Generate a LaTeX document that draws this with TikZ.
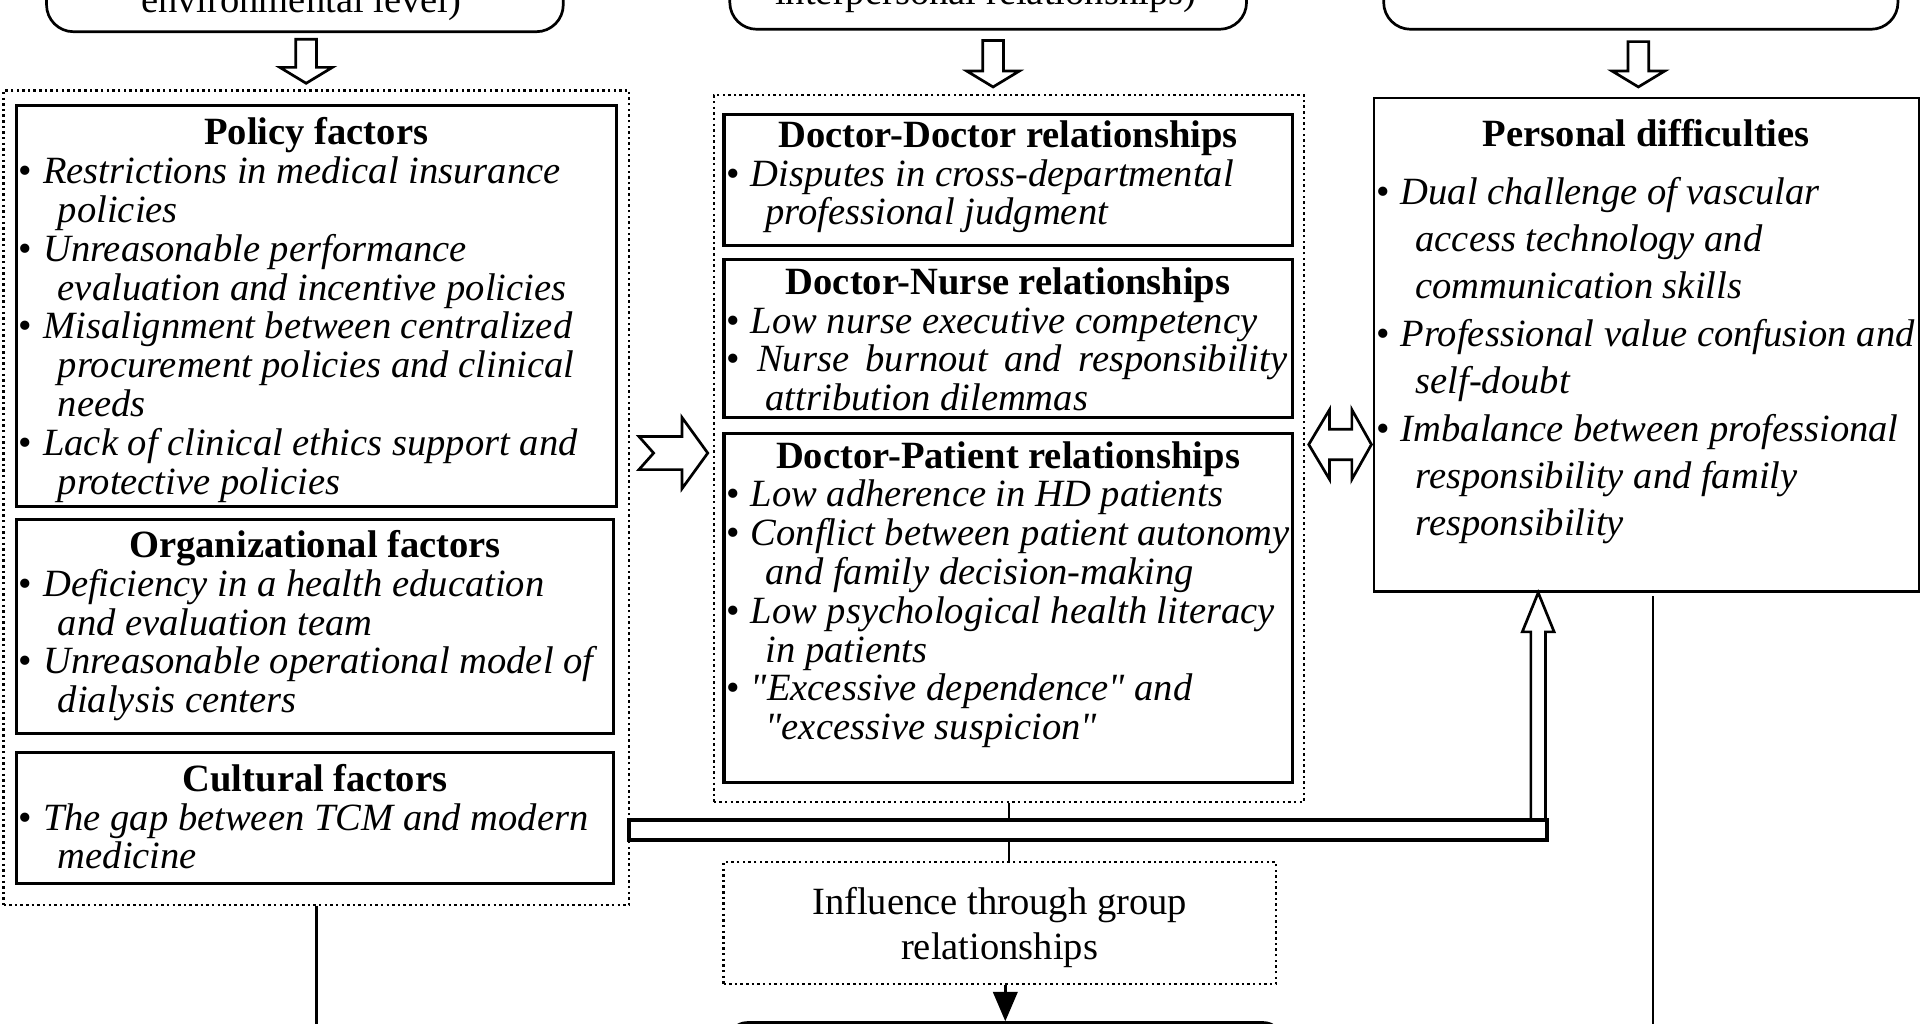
\documentclass[tikz,border=0pt]{standalone}
\usepackage{fontspec}
\setmainfont{Liberation Serif}[Ligatures=TeXOff]
\usetikzlibrary{calc,arrows.meta}

\newcommand{\boxfont}{\fontsize{31.5}{31.7}\selectfont}
\newcommand{\panel}[3]{\parbox[c][#2pt][t]{#1pt}{\boxfont #3}}
\newcommand{\boxtitle}[2]{{\centering\bfseries\rule{0pt}{#1}#2\par}}
\newcommand{\itm}[1]{\noindent\hspace*{2pt}\makebox[20pt][l]{\textbullet}\mbox{\itshape #1}\par}
\newcommand{\cnt}[1]{\noindent\hspace*{34pt}\mbox{\itshape #1}\par}

% hollow block arrows
\newcommand{\hollowdown}[2]{\draw[hollow] let \p1=(#1), \p2=(#2) in
  (\x1-8.5pt,\y1) -- (\x1-8.5pt,\y2+13pt) -- (\x1-21.5pt,\y2+13pt) -- (\x1,\y2)
  -- (\x1+21.5pt,\y2+13pt) -- (\x1+8.5pt,\y2+13pt) -- (\x1+8.5pt,\y1) -- cycle;}
\newcommand{\hollowright}[2]{\draw[hollow] let \p1=(#1), \p2=(#2) in
  (\x1,\y1+13.5pt) -- (\x2-21pt,\y1+13.5pt) -- (\x2-21pt,\y1+29pt) -- (\x2,\y1)
  -- (\x2-21pt,\y1-29pt) -- (\x2-21pt,\y1-13.5pt) -- (\x1,\y1-13.5pt) -- (\x1+12pt,\y1) -- cycle;}
\newcommand{\hollowboth}[2]{\draw[hollow] let \p1=(#1), \p2=(#2) in
  (\x1,\y1) -- (\x1+17pt,\y1+28.5pt) -- (\x1+17pt,\y1+12.5pt) -- (\x2-16pt,\y1+12.5pt)
  -- (\x2-16pt,\y1+28.5pt) -- (\x2,\y1) -- (\x2-16pt,\y1-28.5pt) -- (\x2-16pt,\y1-12.5pt)
  -- (\x1+17pt,\y1-12.5pt) -- (\x1+17pt,\y1-28.5pt) -- cycle;}
\newcommand{\hollowup}[2]{\draw[hollow] let \p1=(#1), \p2=(#2) in
  (\x1-6pt,\y1) -- (\x1-6pt,\y2-32pt) -- (\x1-13pt,\y2-32pt) -- (\x1,\y2)
  -- (\x1+13pt,\y2-32pt) -- (\x1+6pt,\y2-32pt) -- (\x1+6pt,\y1);}

\begin{document}
\begin{tikzpicture}[x=1pt,y=-1pt,
  factor/.style={draw,line width=2.5pt,inner sep=0pt,anchor=north west},
  group/.style={draw,line width=1.8pt,dash pattern=on 2pt off 2.6pt,inner sep=0pt,anchor=north west},
  level/.style={draw,line width=2.2pt,rounded corners=22pt,inner sep=0pt,anchor=south},
  hollow/.style={draw,line width=2.2pt,fill=white,line join=miter},
  conn/.style={line width=2pt}
]
  \useasboundingbox (0,0) rectangle (1568,836);
  \clip (0,0) rectangle (1568,836);

  % level boxes, cut off by the top edge
  \node[level,minimum width=422pt,minimum height=110pt] (envbox) at (249,27) {};
  \node[anchor=base,font=\boxfont] (envtext) at (246,10) {environmental level)};
  \node[level,minimum width=422pt,minimum height=110pt] (interbox) at (807,25) {};
  \node[anchor=base,font=\boxfont] (intertext) at (805,4) {interpersonal relationships)};
  \node[level,minimum width=420pt,minimum height=110pt] (personbox) at (1340,25) {};

  % groups
  \node[group,minimum width=511pt,minimum height=665pt] (leftgroup) at (2,73) {};
  \node[group,minimum width=482pt,minimum height=577pt] (midgroup) at (582,77) {};

  \node[factor] (policy) at (12,85) {\panel{490}{327}{%
    \boxtitle{32pt}{Policy factors}%
    \itm{Restrictions in medical insurance}\cnt{policies}%
    \itm{Unreasonable performance}\cnt{evaluation and incentive policies}%
    \itm{Misalignment between centralized}\cnt{procurement policies and clinical}\cnt{needs}%
    \itm{Lack of clinical ethics support and}\cnt{protective policies}}};
  \node[factor] (organization) at (12,423) {\panel{488}{175}{%
    \boxtitle{31pt}{Organizational factors}%
    \itm{Deficiency in a health education}\cnt{and evaluation team}%
    \itm{Unreasonable operational model of}\cnt{dialysis centers}}};
  \node[factor] (culture) at (12,613) {\panel{488}{107}{%
    \boxtitle{32pt}{Cultural factors}%
    \itm{The gap between TCM and modern}\cnt{medicine}}};

  \node[factor] (doctor) at (590,92) {\panel{464}{107}{%
    \boxtitle{27pt}{Doctor-Doctor relationships}%
    \itm{Disputes in cross-departmental}\cnt{professional judgment}}};
  \node[factor] (nurse) at (590,211) {\panel{464}{129}{%
    \boxtitle{28pt}{Doctor-Nurse relationships}%
    \itm{Low nurse executive competency}%
    \itm{\hspace{5pt}\makebox[433pt][s]{Nurse burnout and responsibility}}%
    \cnt{attribution dilemmas}}};
  \node[factor] (patient) at (590,353) {\panel{464}{285}{%
    \boxtitle{28pt}{Doctor-Patient relationships}%
    \itm{Low adherence in HD patients}%
    \itm{Conflict between patient autonomy}\cnt{and family decision-making}%
    \itm{Low psychological health literacy}\cnt{in patients}%
    \itm{"Excessive dependence" and}\cnt{"excessive suspicion"}}};

  \node[factor,line width=2pt] (personal) at (1121,79) {\panel{445}{403}{%
    \boxtitle{40pt}{Personal difficulties}\vspace{8pt}%
    \fontsize{31.5}{38.7}\selectfont
    \itm{Dual challenge of vascular}\cnt{access technology and}\cnt{communication skills}%
    \itm{Professional value confusion and}\cnt{self-doubt}%
    \itm{Imbalance between professional}\cnt{responsibility and family}\cnt{responsibility}}};

  \node[group] (influence) at (590,703) {\parbox[c][100pt][t]{451pt}{\fontsize{31.5}{37}\selectfont
    \centering\rule{0pt}{43pt}Influence through group\\relationships}};
  \node[level,rounded corners=14pt,line width=3pt,minimum width=450pt,minimum height=80pt,anchor=north] (outcome) at (821,834) {};

  % block arrows
  \coordinate (rowmid) at (0,370);
  \coordinate (rowpd) at (0,363);
  \hollowdown{$(envbox.south)+(1,5)$}{$(leftgroup.north)+(0,-5)$}
  \hollowdown{$(interbox.south)+(4,8)$}{$(midgroup.north)+(0,-6)$}
  \hollowdown{$(personbox.south)+(-2,9)$}{$(personal.north)+(0,-8)$}
  \hollowright{$(leftgroup.east|-rowmid)+(7,0)$}{$(midgroup.west|-rowmid)+(-4,0)$}
  \hollowboth{$(midgroup.east|-rowpd)+(3,0)$}{$(personal.west|-rowpd)+(-1,0)$}
  \node[draw,line width=2.2pt,inner sep=0pt,minimum width=749pt,minimum height=15pt,anchor=north west] (bar) at (513,669) {};
  \hollowup{$(bar.north east)+(-8,0)$}{personal.south}
  \draw[line width=2.2pt] (bar.north west) rectangle (bar.south east);

  % connectors
  \coordinate (leftdown) at (258,880);
  \coordinate (rightdown) at (1350,880);
  \draw[conn] (midgroup.south) -- (midgroup.south |- bar.north);
  \draw[conn] (midgroup.south |- bar.south) -- (midgroup.south |- influence.north);
  \draw[conn,-{Triangle[length=24pt,width=20pt]}] (influence.south -| outcome.north) -- (outcome.north);
  \draw[conn] (leftgroup.south) -- (leftgroup.south |- leftdown);
  \draw[conn] ($(personal.south -| rightdown)+(0,3)$) -- (rightdown);
\end{tikzpicture}
\end{document}
